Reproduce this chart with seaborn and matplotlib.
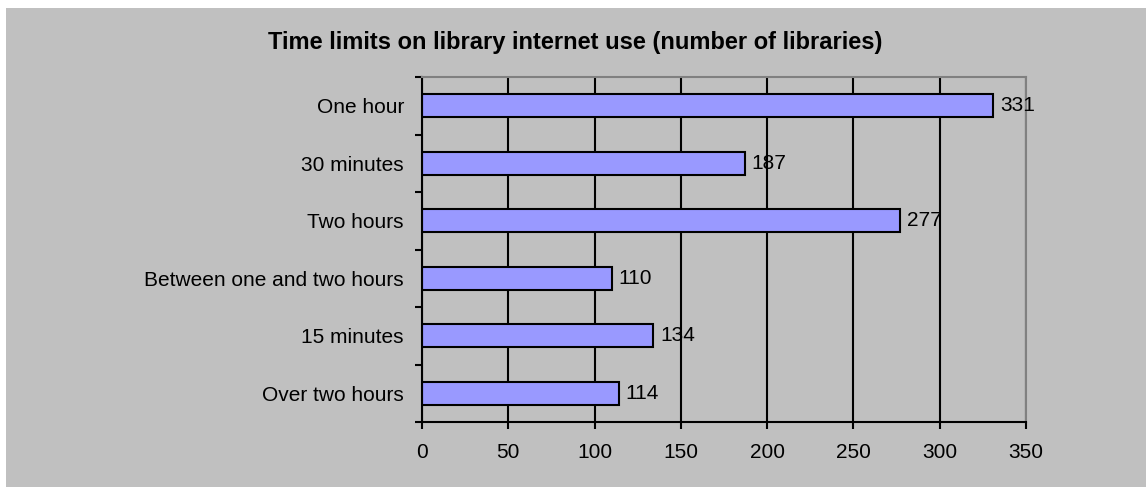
import matplotlib
matplotlib.use("Agg")
import matplotlib.pyplot as plt
import seaborn as sns
import pandas as pd
from matplotlib.patches import Rectangle
from matplotlib.ticker import FixedLocator

# Data
categories = ["One hour", "30 minutes", "Two hours", "Between one and two hours",
              "15 minutes", "Over two hours"]
counts = [331, 187, 277, 110, 134, 114]
x_ticks = [0, 50, 100, 150, 200, 250, 300, 350]

df = pd.DataFrame({"limit": categories, "libraries": counts})

sns.set_theme(style="white")
plt.rcParams['font.family'] = ['Liberation Sans', 'DejaVu Sans']

fig = plt.figure(figsize=(11.46, 4.87), dpi=100)
fig.patch.set_facecolor("white")
# grey chart area, leaving a thin white strip at top and left
fig.patches.append(Rectangle((6 / 1146, 0), 1 - 6 / 1146, 1 - 8 / 487,
                             transform=fig.transFigure, facecolor="#C0C0C0",
                             edgecolor="none", zorder=-10))

ax = fig.add_axes([422 / 1146, 1 - 422 / 487, 604 / 1146, 345 / 487])
ax.set_facecolor("#C0C0C0")

sns.barplot(data=df, x="libraries", y="limit", orient="h", color="#9999FF",
            saturation=1, width=0.4, edgecolor="black", linewidth=1.5, ax=ax)

ax.set_xlim(0, 350)
ax.set_ylim(5.5, -0.5)
ax.set_xticks(x_ticks)
ax.set_xlabel("")
ax.set_ylabel("")
ax.set_axisbelow(True)
ax.xaxis.grid(True, color="black", linewidth=1.5)
ax.yaxis.grid(False)

# value labels
for i, v in enumerate(counts):
    ax.text(v + 4, i, str(v), va="center", ha="left", fontsize=15, color="black")

# y ticks at category boundaries
ax.tick_params(axis="y", which="major", length=0, labelsize=15, pad=13, colors="black")
ax.yaxis.set_minor_locator(FixedLocator([i - 0.5 for i in range(len(categories) + 1)]))
ax.tick_params(axis="y", which="minor", left=True, length=5, width=1.5, color="black")
ax.tick_params(axis="x", which="major", bottom=True, length=5, width=1.5,
               color="black", labelcolor="black", labelsize=15, pad=10)

for side in ["left", "bottom"]:
    ax.spines[side].set_color("black")
    ax.spines[side].set_linewidth(1.5)
for side in ["top", "right"]:
    ax.spines[side].set_color("#808080")
    ax.spines[side].set_linewidth(1.5)

fig.text(0.502, 1 - 43 / 487, "Time limits on library internet use (number of libraries)",
         ha="center", va="center", fontsize=17, fontweight="bold", color="black")

fig.savefig("out.png", dpi=100, facecolor=fig.get_facecolor())
